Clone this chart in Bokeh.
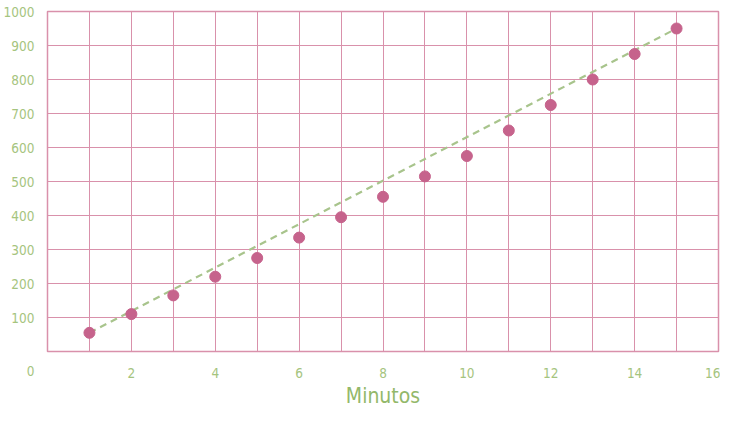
from bokeh.plotting import figure
from bokeh.models import FixedTicker, SingleIntervalTicker, Range1d
from bokeh.embed import file_html
from bokeh.resources import INLINE

minutos = [1, 2, 3, 4, 5, 6, 7, 8, 9, 10, 11, 12, 13, 14, 15]
valores = [55, 110, 165, 220, 275, 335, 395, 455, 515, 575, 650, 725, 800, 875, 950]
x_ticks = [2, 4, 6, 8, 10, 12, 14, 16]
y_ticks = [0, 100, 200, 300, 400, 500, 600, 700, 800, 900, 1000]
x_label = "Minutos"

FONT = "DejaVu Sans Condensed"
GREEN = "#a5c47e"
ROSE = "#d991ab"
DOT = "#c6638c"

p = figure(width=720, height=410, output_backend="svg", toolbar_location=None,
           x_range=Range1d(0, 16), y_range=Range1d(0, 1000),
           min_border_left=37, min_border_right=2, min_border_top=11, min_border_bottom=0)

p.outline_line_color = ROSE
p.outline_line_width = 1.5
p.background_fill_color = "white"
p.border_fill_color = "white"

for ax in (p.xaxis, p.yaxis):
    ax.axis_line_color = None
    ax.major_tick_line_color = None
    ax.minor_tick_line_color = None
    ax.major_label_text_color = GREEN
    ax.major_label_text_font = FONT
    ax.major_label_text_font_size = "13.5px"

p.xaxis.ticker = FixedTicker(ticks=x_ticks)
p.yaxis.ticker = FixedTicker(ticks=y_ticks)
p.yaxis.major_label_overrides = {0: "\n\n0"}
p.xaxis.major_label_standoff = 10
p.yaxis.major_label_standoff = 7
p.xaxis.axis_label = x_label
p.xaxis.axis_label_text_color = "#93b86a"
p.xaxis.axis_label_text_font = FONT
p.xaxis.axis_label_text_font_style = "normal"
p.xaxis.axis_label_text_font_size = "21px"
p.xaxis.axis_label_standoff = 3

p.xgrid.ticker = SingleIntervalTicker(interval=1)
p.ygrid.ticker = SingleIntervalTicker(interval=100)
p.xgrid.grid_line_color = ROSE
p.ygrid.grid_line_color = ROSE
p.xgrid.grid_line_width = 1
p.ygrid.grid_line_width = 1.2

p.line(x=[minutos[0], minutos[-1]], y=[valores[0], valores[-1]],
       line_color="#a8c48c", line_width=2.2, line_dash="7 5")
p.scatter(x=minutos, y=valores, size=11, fill_color=DOT, line_color=DOT)

open("out.html", "w").write(file_html(p, INLINE))
